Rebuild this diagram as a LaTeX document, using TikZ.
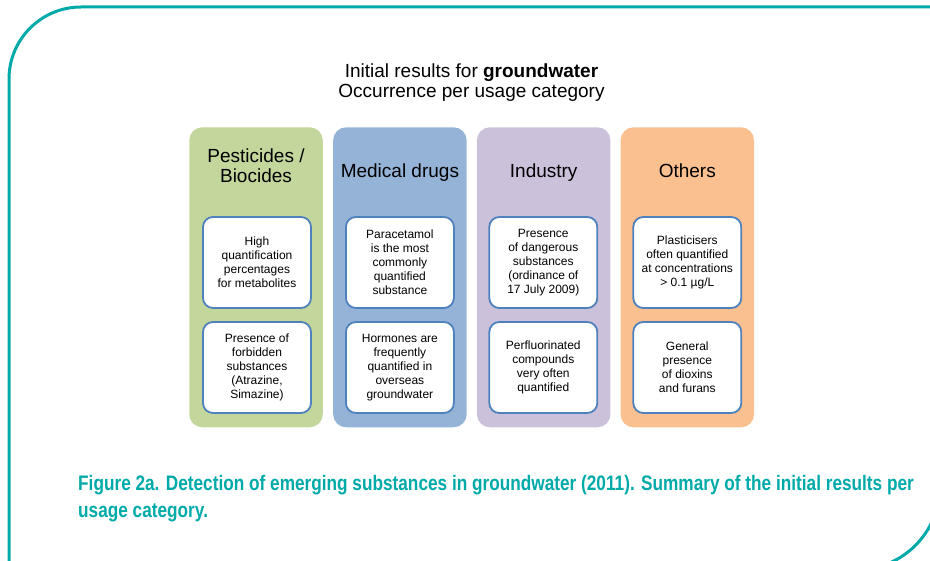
\documentclass[tikz,border=0pt]{standalone}
\usepackage{fontspec}
\setmainfont{Liberation Sans}
\newfontfamily\capfont[FakeStretch=0.82]{Liberation Sans}
\usetikzlibrary{positioning}

\definecolor{framecyan}{RGB}{0,170,168}
\definecolor{pestgreen}{RGB}{195,214,155}
\definecolor{drugblue}{RGB}{149,179,215}
\definecolor{induviolet}{RGB}{204,193,218}
\definecolor{otherorange}{RGB}{250,192,144}
\definecolor{itemline}{RGB}{79,129,189}

\begin{document}
\begin{tikzpicture}[x=1pt, y=-1pt,
    catbox/.style={rounded corners=13pt, minimum width=133.5pt, minimum height=300pt, inner sep=0pt},
    itembox/.style={draw=itemline, line width=1.8pt, fill=white, rounded corners=10pt,
        minimum width=108pt, minimum height=91pt, inner sep=2pt, align=center,
        font=\fontsize{12}{14}\selectfont},
    cathead/.style={align=center, font=\fontsize{19}{20}\selectfont, inner sep=0pt},
    framing/.style={framecyan, line width=3pt}]

    \useasboundingbox (0,0) rectangle (930,561);
    \clip (0,0) rectangle (930,561);

    % --- Page frame (only two corners are rounded) ---
    \draw[framing, rounded corners=72pt] (9,600) -- (9,7) -- (960,7);
    \draw[framing, rounded corners=84pt] (940,-10) -- (940,570) -- (-10,570);

    % --- Title ---
    \node[cathead] (title) at (471.5,83)
        {Initial results for \textbf{groundwater}\\Occurrence per usage category};

    % --- Category columns ---
    \node[catbox, fill=pestgreen]   (pest)  at (256,277.3) {};
    \node[catbox, fill=drugblue]    (drugs) at (399.9,277.3) {};
    \node[catbox, fill=induviolet]  (indu)  at (543.7,277.3) {};
    \node[catbox, fill=otherorange] (other) at (687.3,277.3) {};

    % Column headings
    \node[cathead] (pesthead) at (256,165.5) {Pesticides /\\Biocides};
    \node[cathead, anchor=base] (drugshead) at (399.9,178) {Medical drugs};
    \node[cathead, anchor=base] (induhead)  at (543.7,178) {Industry};
    \node[cathead, anchor=base] (otherhead) at (687.3,178) {Others};

    % --- Findings, two per column ---
    \node[itembox] (pest1) at (257,262.5) {High\\quantification\\percentages\\for metabolites};
    \node[itembox] (pest2) at (257,367.5) {Presence of\\forbidden\\substances\\(Atrazine,\\Simazine)};

    \node[itembox] (drugs1) at (399.9,262.5) {Paracetamol\\is the most\\commonly\\quantified\\substance};
    \node[itembox] (drugs2) at (399.9,367.5) {Hormones are\\frequently\\quantified in\\overseas\\groundwater};

    \node[itembox] (indu1) at (543.3,262.5) {Presence\\of dangerous\\substances\\(ordinance of\\17 July 2009)};
    \node[itembox] (indu2) at (543.3,367.5) {Perfluorinated\\compounds\\very often\\quantified};

    \node[itembox] (other1) at (687.3,262.5) {Plasticisers\\often quantified\\at concentrations\\> 0.1 µg/L};
    \node[itembox] (other2) at (687.3,367.5) {General\\presence\\of dioxins\\and furans};

    % --- Caption ---
    \node[anchor=north west, align=left, inner sep=0pt, text=framecyan,
        font=\capfont\bfseries\fontsize{21}{27}\selectfont] (caption) at (78,475)
        {Figure 2a. Detection of emerging substances in groundwater (2011). Summary of the initial results per\\usage category.};

\end{tikzpicture}
\end{document}
